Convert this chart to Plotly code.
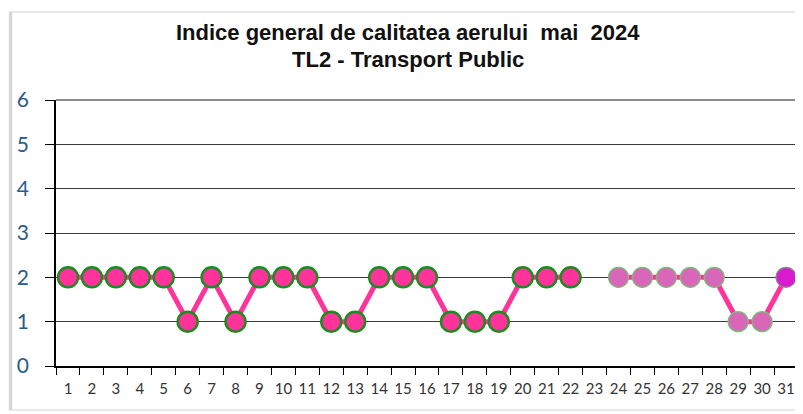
import plotly.graph_objects as go

days = [str(d) for d in range(1, 32)]
index_values = [2, 2, 2, 2, 2, 1, 2, 1, 2, 2, 2, 1, 1, 2, 2, 2, 1, 1, 1, 2, 2, 2,
                None, 2, 2, 2, 2, 2, 1, 1, 2]
y_ticks = [0, 1, 2, 3, 4, 5, 6]
title_lines = ["Indice general de calitatea aerului  mai  2024", "TL2 - Transport Public"]

# marker styling per day (reference uses three marker variants)
fill_colors = ["#FF3399"] * 23 + ["#D966B8"] * 7 + ["#D81BCF"]
edge_colors = ["#1F8A1F"] * 23 + ["#74C274"] * 7 + ["#8A8A8A"]
edge_widths = [2.5] * 23 + [1.3] * 7 + [1.2]

fig = go.Figure()
fig.add_trace(go.Scatter(
    x=days, y=index_values,
    mode="lines+markers",
    connectgaps=False,
    line=dict(color="#FF3399", width=5),
    marker=dict(size=20, color=fill_colors,
                line=dict(color=edge_colors, width=edge_widths)),
    showlegend=False,
))

title_font = dict(family="Liberation Sans Narrow, Liberation Sans, Arial", size=22, color="#111111")
for line_text, ypos in zip(title_lines, [1.252, 1.154]):
    fig.add_annotation(text=f"<b>{line_text}</b>", xref="paper", yref="paper",
                       x=0.474, y=ypos, xanchor="center", yanchor="middle",
                       showarrow=False, font=title_font)

# the page body has an 8px margin, so the figure is a bit smaller than the window
fig.update_layout(
    width=795, height=406,
    margin=dict(l=48, r=5, t=92, b=48, autoexpand=False),
    paper_bgcolor="white",
    plot_bgcolor="white",
    xaxis=dict(
        type="category",
        range=[-0.5, 30.5],
        tickson="boundaries",
        tickangle=0,
        automargin=False,
        ticks="outside", ticklen=7, tickcolor="#000000", tickwidth=1,
        ticklabelstandoff=8,
        showline=True, linecolor="#000000", linewidth=1.5,
        showgrid=False,
        tickfont=dict(family="Lato, Open Sans, sans-serif", size=15, color="#333333"),
    ),
    yaxis=dict(
        range=[0, 6], tickvals=y_ticks,
        automargin=False,
        ticks="outside", ticklen=9, tickcolor="#000000",
        ticklabelstandoff=12,
        showline=True, linecolor="#000000", linewidth=1.5,
        showgrid=True, gridcolor="#3a3a3a", gridwidth=1,
        zeroline=False,
        tickfont=dict(family="Lato, Open Sans, sans-serif", size=21, color="#2B5A8C"),
    ),
    shapes=[
        # chart area frame
        dict(type="rect", xref="paper", yref="paper",
             x0=-0.0627, x1=1.0054, y0=-0.165, y1=1.331,
             line=dict(color="#E2E2E2", width=1.5), layer="below"),
        dict(type="line", xref="paper", yref="paper",
             x0=-0.0610, x1=-0.0610, y0=-0.165, y1=1.331,
             line=dict(color="#D6D6D6", width=3), layer="below"),
        # plot area right/top border
        dict(type="line", xref="paper", yref="paper",
             x0=0, x1=1, y0=1, y1=1,
             line=dict(color="#8C8C8C", width=2)),
        dict(type="line", xref="paper", yref="paper",
             x0=1, x1=1, y0=0, y1=1,
             line=dict(color="#8C8C8C", width=2.5)),
    ],
)

fig.write_html("out.html")
